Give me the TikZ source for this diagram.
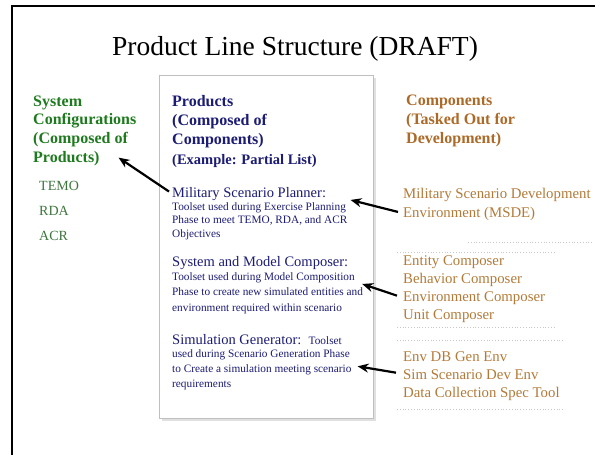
\documentclass[tikz,border=0pt]{standalone}
\usepackage{fontspec}
\setmainfont{Liberation Serif}
\usepackage{tikz}
\usetikzlibrary{arrows.meta}

\definecolor{cfggreen}{RGB}{30,122,30}
\definecolor{cfglight}{RGB}{60,118,60}
\definecolor{prodnavy}{RGB}{28,28,115}
\definecolor{compbrown}{RGB}{172,106,40}
\definecolor{complight}{RGB}{178,122,56}

\tikzset{
  txt/.style={anchor=base west,align=left,inner sep=0pt},
  headbig/.style={txt,font=\fontsize{16}{18.6}\selectfont\bfseries},
  headsmall/.style={txt,font=\fontsize{14.5}{17}\selectfont\bfseries},
  prodname/.style={txt,color=prodnavy,font=\fontsize{14.5}{17}\selectfont},
  proddesc/.style={txt,color=prodnavy,font=\fontsize{11.3}{13.5}\selectfont},
  complist/.style={txt,color=complight,font=\fontsize{14.8}{18}\selectfont},
  dotline/.style={color=black!22,line width=0.8pt,dotted},
  bigarrow/.style={-{Stealth[length=11pt,width=9pt]},line width=2.2pt}
}

\begin{document}
\begin{tikzpicture}[x=1pt,y=-1pt]
		\useasboundingbox (0,0) rectangle (595,455);

		%------------------------------------------------------
		\draw[line width=2pt] (595,5.5) -- (11.5,5.5) -- (11.5,455);
		\node[anchor=base,inner sep=0pt,font=\fontsize{27.5}{30}\selectfont] (title) at (295,55) {Product Line Structure (DRAFT)};
		%------------------------------------------------------


		%------------------------------------------------------
		\fill[black!12] (161.5,77.5) rectangle (375.5,420.5);
		\node[draw=black!25,fill=white,line width=0.8pt,minimum width=214pt,minimum height=343pt,inner sep=0pt] (prodbox) at (266,246.5) {};
		%------------------------------------------------------


		% multi-line nodes sit on the baseline of their last line
		%------------------------------------------------------
		\node[headbig,color=cfggreen] (syshead) at (33,162) {System\\Configurations\\(Composed of\\Products)};
		\node[txt,color=cfglight,font=\fontsize{14}{25}\selectfont] (configs) at (39,240) {TEMO\\RDA\\ACR};
		%------------------------------------------------------


		%------------------------------------------------------
		\node[headbig,color=prodnavy] (prodhead) at (172,144) {Products\\(Composed of\\Components)};
		\node[headsmall,color=prodnavy] (example) at (172,164) {(Example: Partial List)};

		\node[prodname] (planner) at (172,197) {Military Scenario Planner:};
		\node[proddesc] (plannertxt) at (172,237) {Toolset used during Exercise Planning\\Phase to meet TEMO, RDA, and ACR\\Objectives};

		\node[prodname] (composer) at (172,266) {System and Model Composer:};
		\node[proddesc,font=\fontsize{11.3}{15.3}\selectfont] (composertxt) at (172,311) {Toolset used during Model Composition\\Phase to create new simulated entities and\\environment required within scenario};

		\node[prodname] (generator) at (172,344) {Simulation Generator:\ \ {\fontsize{11.3}{14}\selectfont Toolset}};
		\node[proddesc,font=\fontsize{11.3}{15}\selectfont] (generatortxt) at (172,387) {used during Scenario Generation Phase\\to Create a simulation meeting scenario\\requirements};
		%------------------------------------------------------


		%------------------------------------------------------
		\node[headbig,color=compbrown] (comphead) at (406,143) {Components\\(Tasked Out for\\Development)};
		\node[complist,font=\fontsize{14.8}{19}\selectfont] (msde) at (403,217) {Military Scenario Development\\Environment (MSDE)};
		\node[complist] (tools1) at (403,319) {Entity Composer\\Behavior Composer\\Environment Composer\\Unit Composer};
		\node[complist] (tools2) at (403,397) {Env DB Gen Env\\Sim Scenario Dev Env\\Data Collection Spec Tool};

		\draw[dotline] (468,242) -- (593,242);
		\draw[dotline] (397,252) -- (555,252);
		\draw[dotline] (397,327) -- (555,327);
		\draw[dotline] (397,340) -- (565,340);
		\draw[dotline] (397,409) -- (565,409);
		%------------------------------------------------------


		%------------------------------------------------------
		\draw[bigarrow] ([xshift=-3pt,yshift=2pt]planner.west) -- ([xshift=-18pt,yshift=8pt]syshead.south east);
		\draw[bigarrow] ([xshift=-5pt,yshift=-8pt]msde.west) -- ([xshift=3pt,yshift=2pt]plannertxt.north east);
		\draw[bigarrow] ([xshift=-6pt,yshift=-7pt]tools1.west) -- ([xshift=-1pt,yshift=9pt]composertxt.east);
		\draw[bigarrow] ([xshift=-7pt,yshift=3pt]tools2.west) -- ([xshift=6pt,yshift=3pt]generatortxt.east);
		%------------------------------------------------------

\end{tikzpicture}
\end{document}
